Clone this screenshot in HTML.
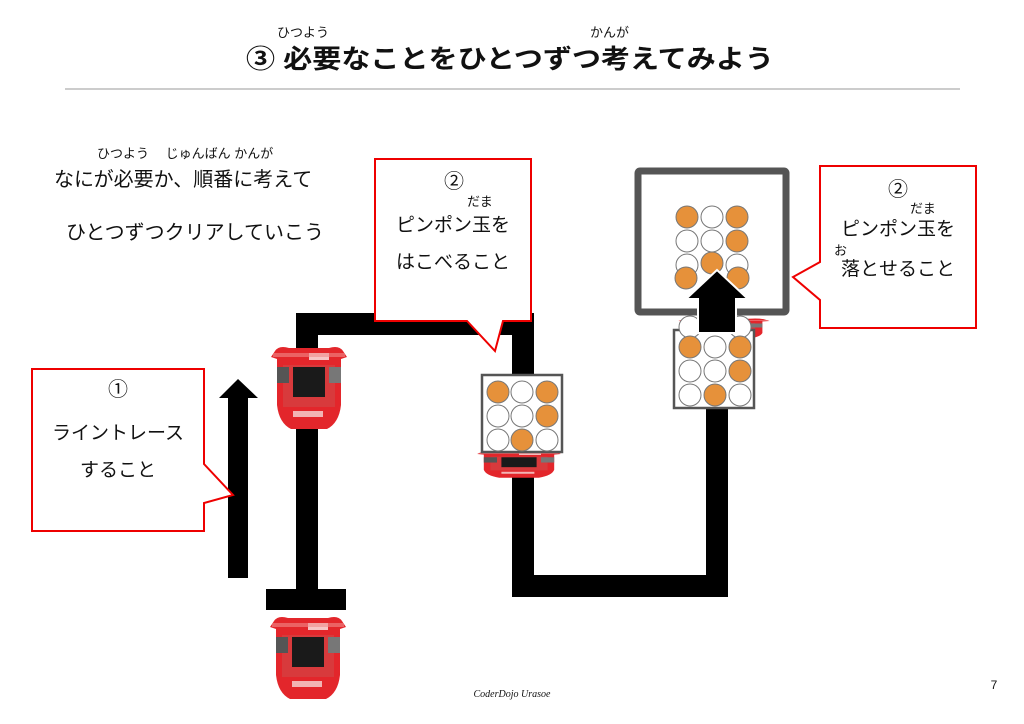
<!DOCTYPE html>
<html><head><meta charset="utf-8"><style>
html,body{margin:0;padding:0;background:#fff}
svg{display:block}
text{font-family:"Liberation Sans","Noto Sans CJK JP",sans-serif;fill:#111}
</style></head><body>
<svg width="1024" height="724" viewBox="0 0 1024 724" xmlns="http://www.w3.org/2000/svg">
<defs>
<g id="robot">
  <path d="M6 6 Q10 0 20 3 L60 3 Q70 0 74 6 L78 12 L72 14 L72 60 Q70 78 58 84 L22 84 Q10 78 8 60 L8 14 L2 12 Z" fill="#e3262b"/>
  <rect x="14" y="20" width="52" height="42" fill="#d83a3c"/>
  <rect x="24" y="22" width="32" height="30" fill="#1a1a1a"/>
  <rect x="8" y="22" width="12" height="16" fill="#555"/>
  <rect x="60" y="22" width="12" height="16" fill="#777"/>
  <rect x="24" y="66" width="30" height="6" fill="#f2b4b4"/>
  <rect x="40" y="8" width="20" height="7" fill="#f6c6c6"/>
  <rect x="4" y="8" width="72" height="4" fill="#f08a8a" opacity="0.6"/>
</g>
</defs>

<!-- title -->
<text x="277" y="37" font-size="13">ひつよう</text>
<text x="590" y="37" font-size="13">かんが</text>
<text x="510" y="68" font-size="26" font-weight="bold" text-anchor="middle" textLength="528" lengthAdjust="spacingAndGlyphs">③ 必要なことをひとつずつ考えてみよう</text>
<line x1="65" y1="89" x2="960" y2="89" stroke="#999" stroke-width="1"/>

<!-- top-left text -->
<text x="97" y="158" font-size="13">ひつよう　 じゅんばん かんが</text>
<text x="54" y="186" font-size="20">なにが必要か、順番に考えて</text>
<text x="66" y="239" font-size="20">ひとつずつクリアしていこう</text>

<!-- track -->
<rect x="296" y="313" width="22" height="280" fill="#000"/>
<rect x="296" y="313" width="238" height="22" fill="#000"/>
<rect x="512" y="313" width="22" height="284" fill="#000"/>
<rect x="512" y="575" width="216" height="22" fill="#000"/>
<rect x="706" y="395" width="22" height="202" fill="#000"/>
<rect x="266" y="589" width="80" height="21" fill="#000"/>

<!-- robots -->
<use href="#robot" x="269" y="345"/>
<use href="#robot" x="268" y="615"/>
<g transform="translate(475,450) scale(1.1,0.33)"><use href="#robot"/></g>
<g transform="translate(676,318) scale(1.2,0.25)"><use href="#robot"/></g>

<!-- left arrow -->
<polygon points="228,578 248,578 248,398 258,398 238,379 219,398 228,398" fill="#000"/>

<!-- callout 1 -->
<path d="M32 369 H204 V464 L233 495 L204 503 V531 H32 Z" fill="#fff" stroke="#e00" stroke-width="2"/>
<text x="118" y="396" font-size="20" text-anchor="middle">①</text>
<text x="118" y="439" font-size="19" text-anchor="middle">ライントレース</text>
<text x="118" y="476" font-size="19" text-anchor="middle">すること</text>

<!-- callout 2 -->
<path d="M375 159 H531 V321 H503 L495 351 L467 321 H375 Z" fill="#fff" stroke="#e00" stroke-width="2"/>
<text x="454" y="188" font-size="20" text-anchor="middle">②</text>
<text x="467" y="206" font-size="13">だま</text>
<text x="453" y="231" font-size="19" text-anchor="middle">ピンポン玉を</text>
<text x="453" y="268" font-size="19" text-anchor="middle">はこべること</text>

<!-- box with balls 1 -->
<rect x="482" y="375" width="80" height="77" fill="#fff" stroke="#555" stroke-width="2.5"/>
<g stroke="#777" stroke-width="1">
<circle cx="498" cy="392" r="11" fill="#e6913a"/><circle cx="522" cy="392" r="11" fill="#fff"/><circle cx="547" cy="392" r="11" fill="#e6913a"/>
<circle cx="498" cy="416" r="11" fill="#fff"/><circle cx="522" cy="416" r="11" fill="#fff"/><circle cx="547" cy="416" r="11" fill="#e6913a"/>
<circle cx="498" cy="440" r="11" fill="#fff"/><circle cx="522" cy="440" r="11" fill="#e6913a"/><circle cx="547" cy="440" r="11" fill="#fff"/>
</g>

<!-- frame -->
<rect x="638" y="171" width="148" height="141" fill="#fff" stroke="#555" stroke-width="7" rx="2"/>
<g stroke="#777" stroke-width="1">
<circle cx="687" cy="217" r="11" fill="#e6913a"/><circle cx="712" cy="217" r="11" fill="#fff"/><circle cx="737" cy="217" r="11" fill="#e6913a"/>
<circle cx="687" cy="241" r="11" fill="#fff"/><circle cx="712" cy="241" r="11" fill="#fff"/><circle cx="737" cy="241" r="11" fill="#e6913a"/>
<circle cx="687" cy="265" r="11" fill="#fff"/><circle cx="712" cy="263" r="11" fill="#e6913a"/><circle cx="737" cy="265" r="11" fill="#fff"/>
<circle cx="686" cy="278" r="11" fill="#e6913a"/><circle cx="738" cy="278" r="11" fill="#e6913a"/>
</g>

<!-- box with balls 2 -->
<rect x="674" y="330" width="80" height="78" fill="#fff" stroke="#555" stroke-width="2.5"/>
<g stroke="#777" stroke-width="1">
<circle cx="690" cy="327" r="11" fill="#fff"/><circle cx="740" cy="327" r="11" fill="#fff"/>
<circle cx="690" cy="347" r="11" fill="#e6913a"/><circle cx="715" cy="347" r="11" fill="#fff"/><circle cx="740" cy="347" r="11" fill="#e6913a"/>
<circle cx="690" cy="371" r="11" fill="#fff"/><circle cx="715" cy="371" r="11" fill="#fff"/><circle cx="740" cy="371" r="11" fill="#e6913a"/>
<circle cx="690" cy="395" r="11" fill="#fff"/><circle cx="715" cy="395" r="11" fill="#e6913a"/><circle cx="740" cy="395" r="11" fill="#fff"/>
</g>

<!-- up arrow in frame -->
<polygon points="698,333 736,333 736,299 748,299 717,270 686,299 698,299" fill="#000" stroke="#fff" stroke-width="2"/>

<!-- callout 3 -->
<path d="M820 166 H976 V328 H820 V300 L793 277 L820 262 Z" fill="#fff" stroke="#e00" stroke-width="2"/>
<text x="898" y="196" font-size="20" text-anchor="middle">②</text>
<text x="910" y="213" font-size="13">だま</text>
<text x="898" y="235" font-size="19" text-anchor="middle">ピンポン玉を</text>
<text x="834" y="255" font-size="13">お</text>
<text x="898" y="275" font-size="19" text-anchor="middle">落とせること</text>

<!-- footer -->
<text x="512" y="697" font-size="10" font-style="italic" text-anchor="middle" style="font-family:'Liberation Serif',serif" fill="#333">CoderDojo Urasoe</text>
<text x="994" y="689" font-size="12" text-anchor="middle" fill="#555">7</text>
</svg>
</body></html>
